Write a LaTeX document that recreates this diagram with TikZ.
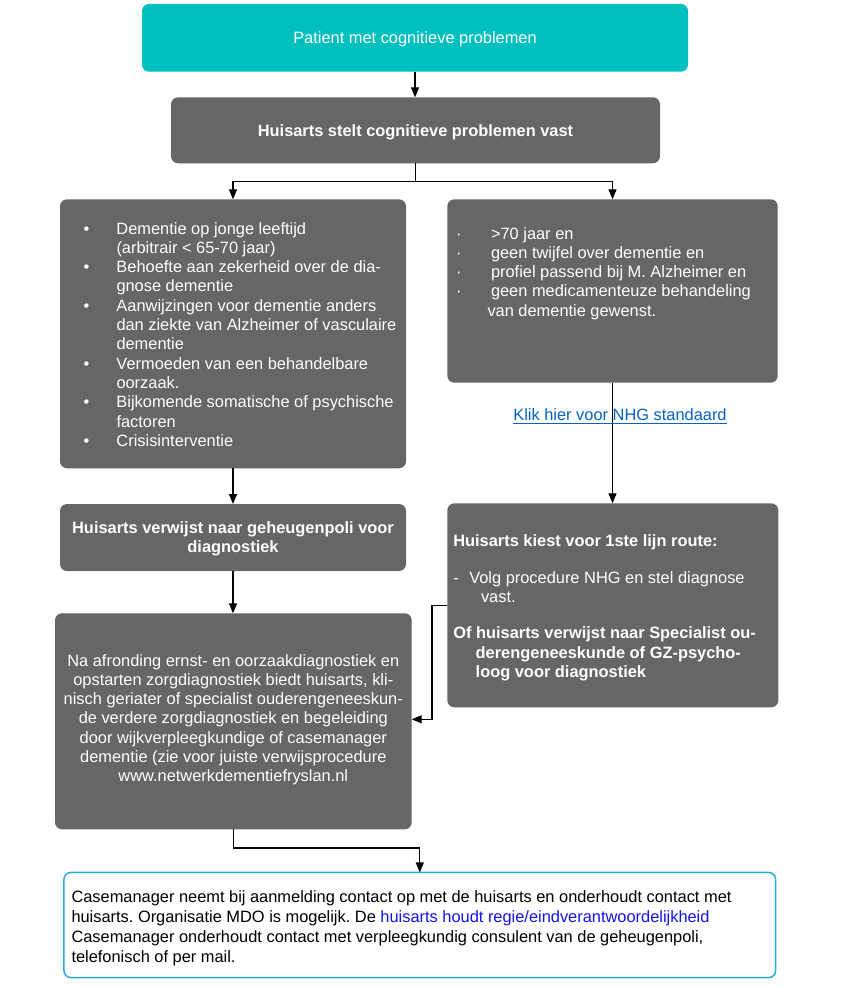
\documentclass[tikz,border=0pt]{standalone}
\usepackage{fontspec}
\setmainfont{Liberation Sans}
\usetikzlibrary{arrows.meta}
\definecolor{tealbox}{RGB}{0,191,191}
\definecolor{graybox}{RGB}{102,102,102}
\definecolor{bordblue}{RGB}{41,171,226}
\definecolor{linkblue}{RGB}{5,99,193}
\definecolor{regieblue}{RGB}{20,20,235}
\newcommand\fst{\rule{0pt}{13pt}}
\newcommand\bul{\makebox[0pt][r]{\makebox[33pt][l]{•}}}
\newcommand\mdot{\makebox[0pt][r]{\makebox[35pt][l]{·}}}
\frenchspacing
\begin{document}
\begin{tikzpicture}[x=1pt,y=-1pt,
 box/.style={draw=none, rounded corners=7pt, inner sep=0pt, outer sep=0pt},
 dark/.style={box, fill=graybox},
 conn/.style={line width=1.2pt, -{Triangle[length=10pt,width=8pt]}},
 txt/.style={inner sep=0pt, outer sep=0pt, text=white, font=\fontsize{16.4}{19.3}\selectfont},
 txtb/.style={inner sep=0pt, outer sep=0pt, text=white, font=\fontsize{16.4}{19.3}\selectfont\bfseries}]
\useasboundingbox (0,0) rectangle (843,987);
\fill[white] (0,0) rectangle (843,987);

% boxes
\node[box, fill=tealbox, minimum width=546pt, minimum height=67.7pt] (top) at (415,37.85) {};
\node[dark, minimum width=489pt, minimum height=66pt] (b2) at (415.5,130.3) {};
\node[dark, minimum width=346pt, minimum height=269pt] (L1) at (233,333.8) {};
\node[dark, minimum width=330.4pt, minimum height=183.4pt] (R1) at (612.5,291) {};
\node[dark, minimum width=346pt, minimum height=67pt] (L2) at (233,537.5) {};
\node[dark, minimum width=356.7pt, minimum height=216pt] (L3) at (233.35,721.3) {};
\node[dark, minimum width=331pt, minimum height=204pt] (R2) at (612.8,605.3) {};
\node[box, draw=bordblue, line width=1.5pt, fill=white, minimum width=711.7pt, minimum height=105.1pt] (B) at (419.8,925) {};

% connectors
\draw[conn] (top.south) -- (top.south |- b2.north);
\draw[conn] (b2.south) -- ++(0,18.4) -| (L1.north);
\draw[conn] (b2.south) -- ++(0,18.4) -| (R1.north);
\draw[conn] (L1.south) -- (L2.north);
\draw[conn] (L2.south) -- (L2.south |- L3.north);
\draw[conn] (R1.south) -- (R1.south |- R2.north);
\draw[conn] (R2.west) -- ++(-15.3,0) |- ([yshift=2pt]L3.east);
\draw[conn] (L3.south) -- ++(0,18.7) -| (B.north);

% texts
\node[txt, anchor=base] (toptxt) at (415,43.3) {Patient met cognitieve problemen};
\node[txtb, anchor=base] (b2txt) at (415.5,136.7) {Huisarts stelt cognitieve problemen vast};

\node[txt, anchor=north west, align=left] (L1txt) at (116.5,221) {\fst\bul Dementie op jonge leeftijd\\
(arbitrair < 65-70 jaar)\\
\bul Behoefte aan zekerheid over de dia-\\
gnose dementie\\
\bul Aanwijzingen voor dementie anders\\
dan ziekte van Alzheimer of vasculaire\\
dementie\\
\bul Vermoeden van een behandelbare\\
oorzaak.\\
\bul Bijkomende somatische of psychische\\
factoren\\
\bul Crisisinterventie};

\node[txt, anchor=north west, align=left] (R1txt) at (491,226) {\fst\mdot >70 jaar en\\
\mdot geen twijfel over dementie en\\
\mdot profiel passend bij M. Alzheimer en\\
\mdot geen medicamenteuze behandeling\\
\kern-3.5pt van dementie gewenst.};

\node[inner sep=0pt, outer sep=0pt, text=linkblue, font=\fontsize{16.4}{19.3}\selectfont, anchor=base] (link) at (620,420) {Klik hier voor NHG standaard};
\draw[linkblue, line width=1pt] ([yshift=-3pt]link.base west) -- ([yshift=-3pt]link.base east);

\node[txtb, anchor=north, align=center] (L2txt) at (233,520.3) {\fst Huisarts verwijst naar geheugenpoli voor\\diagnostiek};

\node[txt, anchor=north, align=center] (L3txt) at (233.3,653) {\fst Na afronding ernst- en oorzaakdiagnostiek en\\
opstarten zorgdiagnostiek biedt huisarts, kli-\\
nisch geriater of specialist ouderengeneeskun-\\
de verdere zorgdiagnostiek en begeleiding\\
door wijkverpleegkundige of casemanager\\
dementie (zie voor juiste verwijsprocedure\\
www.netwerkdementiefryslan.nl};

\node[txt, anchor=north west, align=left] (R2txt) at (453.3,533.5) {\fst\textbf{Huisarts kiest voor 1ste lijn route:}\\[17.7pt]
\makebox[16pt][l]{-}Volg procedure NHG en stel diagnose\\
\hspace*{27.7pt}vast.\\[16.7pt]
\textbf{Of huisarts verwijst naar Specialist ou-}\\
\hspace*{22.4pt}\textbf{derengeneeskunde of GZ-psycho-}\\
\hspace*{22.4pt}\textbf{loog voor diagnostiek}};

\node[inner sep=0pt, outer sep=0pt, text=black, font=\fontsize{16.4}{20.1}\selectfont, anchor=north west, align=left] (Btxt) at (71.5,889.5) {\fst Casemanager neemt bij aanmelding contact op met de huisarts en onderhoudt contact met\\
huisarts. Organisatie MDO is mogelijk. De \textcolor{regieblue}{huisarts houdt regie/eindverantwoordelijkheid}\\
Casemanager onderhoudt contact met verpleegkundig consulent van de geheugenpoli,\\
telefonisch of per mail.};
\end{tikzpicture}
\end{document}
